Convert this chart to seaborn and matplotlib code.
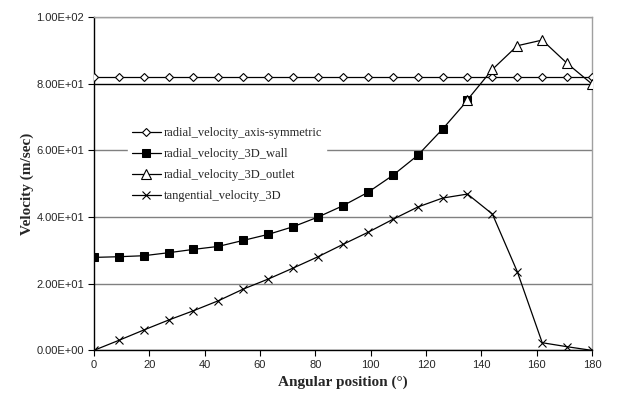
import numpy as np
import pandas as pd
import matplotlib
matplotlib.use("Agg")
import matplotlib.pyplot as plt
import seaborn as sns
from matplotlib.ticker import FormatStrFormatter

# ---- data ----
angle_all = [0, 9, 18, 27, 36, 45, 54, 63, 72, 81, 90, 99, 108, 117, 126, 135,
             144, 153, 162, 171, 180]
radial_axisym = [82.0] * 21
angle_wall = [0, 9, 18, 27, 36, 45, 54, 63, 72, 81, 90, 99, 108, 117, 126, 135]
radial_wall = [27.9, 28.1, 28.4, 29.3, 30.3, 31.2, 33.0, 34.8, 37.1, 40.0, 43.4,
               47.4, 52.5, 58.5, 66.4, 75.0]
angle_outlet = [135, 144, 153, 162, 171, 180]
radial_outlet = [75.2, 84.3, 91.4, 93.1, 86.1, 79.9]
tangential = [0.0, 3.0, 6.1, 9.1, 11.9, 14.9, 18.4, 21.4, 24.7, 28.1, 31.8, 35.4,
              39.3, 43.0, 45.7, 46.9, 40.9, 23.6, 2.3, 1.1, 0.0]
labels = ["radial_velocity_axis-symmetric", "radial_velocity_3D_wall",
          "radial_velocity_3D_outlet", "tangential_velocity_3D"]
xticks = [0, 20, 40, 60, 80, 100, 120, 140, 160, 180]
yticks = [0, 20, 40, 60, 80, 100]

sns.set_style("white")
plt.rcParams["font.family"] = ["Liberation Sans", "DejaVu Sans"]

fig = plt.figure(figsize=(6.18, 3.97), dpi=100)
ax = fig.add_axes([0.1518, 0.1174, 0.958 - 0.1518, 0.957 - 0.1174])

common = dict(color="black", linewidth=0.9, ax=ax)
sns.lineplot(x=angle_all, y=radial_axisym, marker="D", markersize=4.2,
             markerfacecolor="white", markeredgecolor="black", markeredgewidth=0.8,
             label=labels[0], zorder=5, **common)
sns.lineplot(x=angle_wall, y=radial_wall, marker="s", markersize=5.5,
             markerfacecolor="black", markeredgecolor="black",
             label=labels[1], zorder=5, **common)
sns.lineplot(x=angle_outlet, y=radial_outlet, marker="^", markersize=6.5,
             markerfacecolor="white", markeredgecolor="black", markeredgewidth=0.8,
             label=labels[2], zorder=6, **common)
sns.lineplot(x=angle_all, y=tangential, marker="x", markersize=6,
             markeredgecolor="black", markeredgewidth=0.8,
             label=labels[3], zorder=5, **common)

ax.set_xlim(0, 180)
ax.set_ylim(0, 100)
ax.set_xticks(xticks)
ax.set_yticks(yticks)
ax.yaxis.set_major_formatter(FormatStrFormatter("%.2E"))
ax.tick_params(axis="both", direction="out", length=4, width=0.8, color="black",
               labelsize=8, pad=3, bottom=True, left=True)

ax.yaxis.grid(True, color="#808080", linewidth=1.0)
ax.set_axisbelow(True)
for val, gl in zip(yticks, ax.yaxis.get_gridlines()):
    if val == 80:
        gl.set_color("black")

for side in ["left", "bottom"]:
    ax.spines[side].set_color("black")
    ax.spines[side].set_linewidth(1.0)
for side in ["top", "right"]:
    ax.spines[side].set_color("#a0a0a0")
    ax.spines[side].set_linewidth(1.0)

ax.set_xlabel("Angular position (°)", family=["Liberation Serif", "DejaVu Serif"],
              fontweight="bold", fontsize=11, labelpad=4)
ax.set_ylabel("Velocity (m/sec)", family=["Liberation Serif", "DejaVu Serif"],
              fontweight="bold", fontsize=11, labelpad=2)

leg = ax.legend(loc="upper left", bbox_to_anchor=(122 / 618, 1 - 117 / 397),
                bbox_transform=fig.transFigure, frameon=True, fancybox=False,
                facecolor="white", edgecolor="white", framealpha=1,
                prop={"family": "Liberation Serif", "size": 9},
                handlelength=2.3, handletextpad=0.25, labelspacing=0.72,
                borderpad=0.3)
leg.set_zorder(4)

fig.savefig("out.png", dpi=100)
